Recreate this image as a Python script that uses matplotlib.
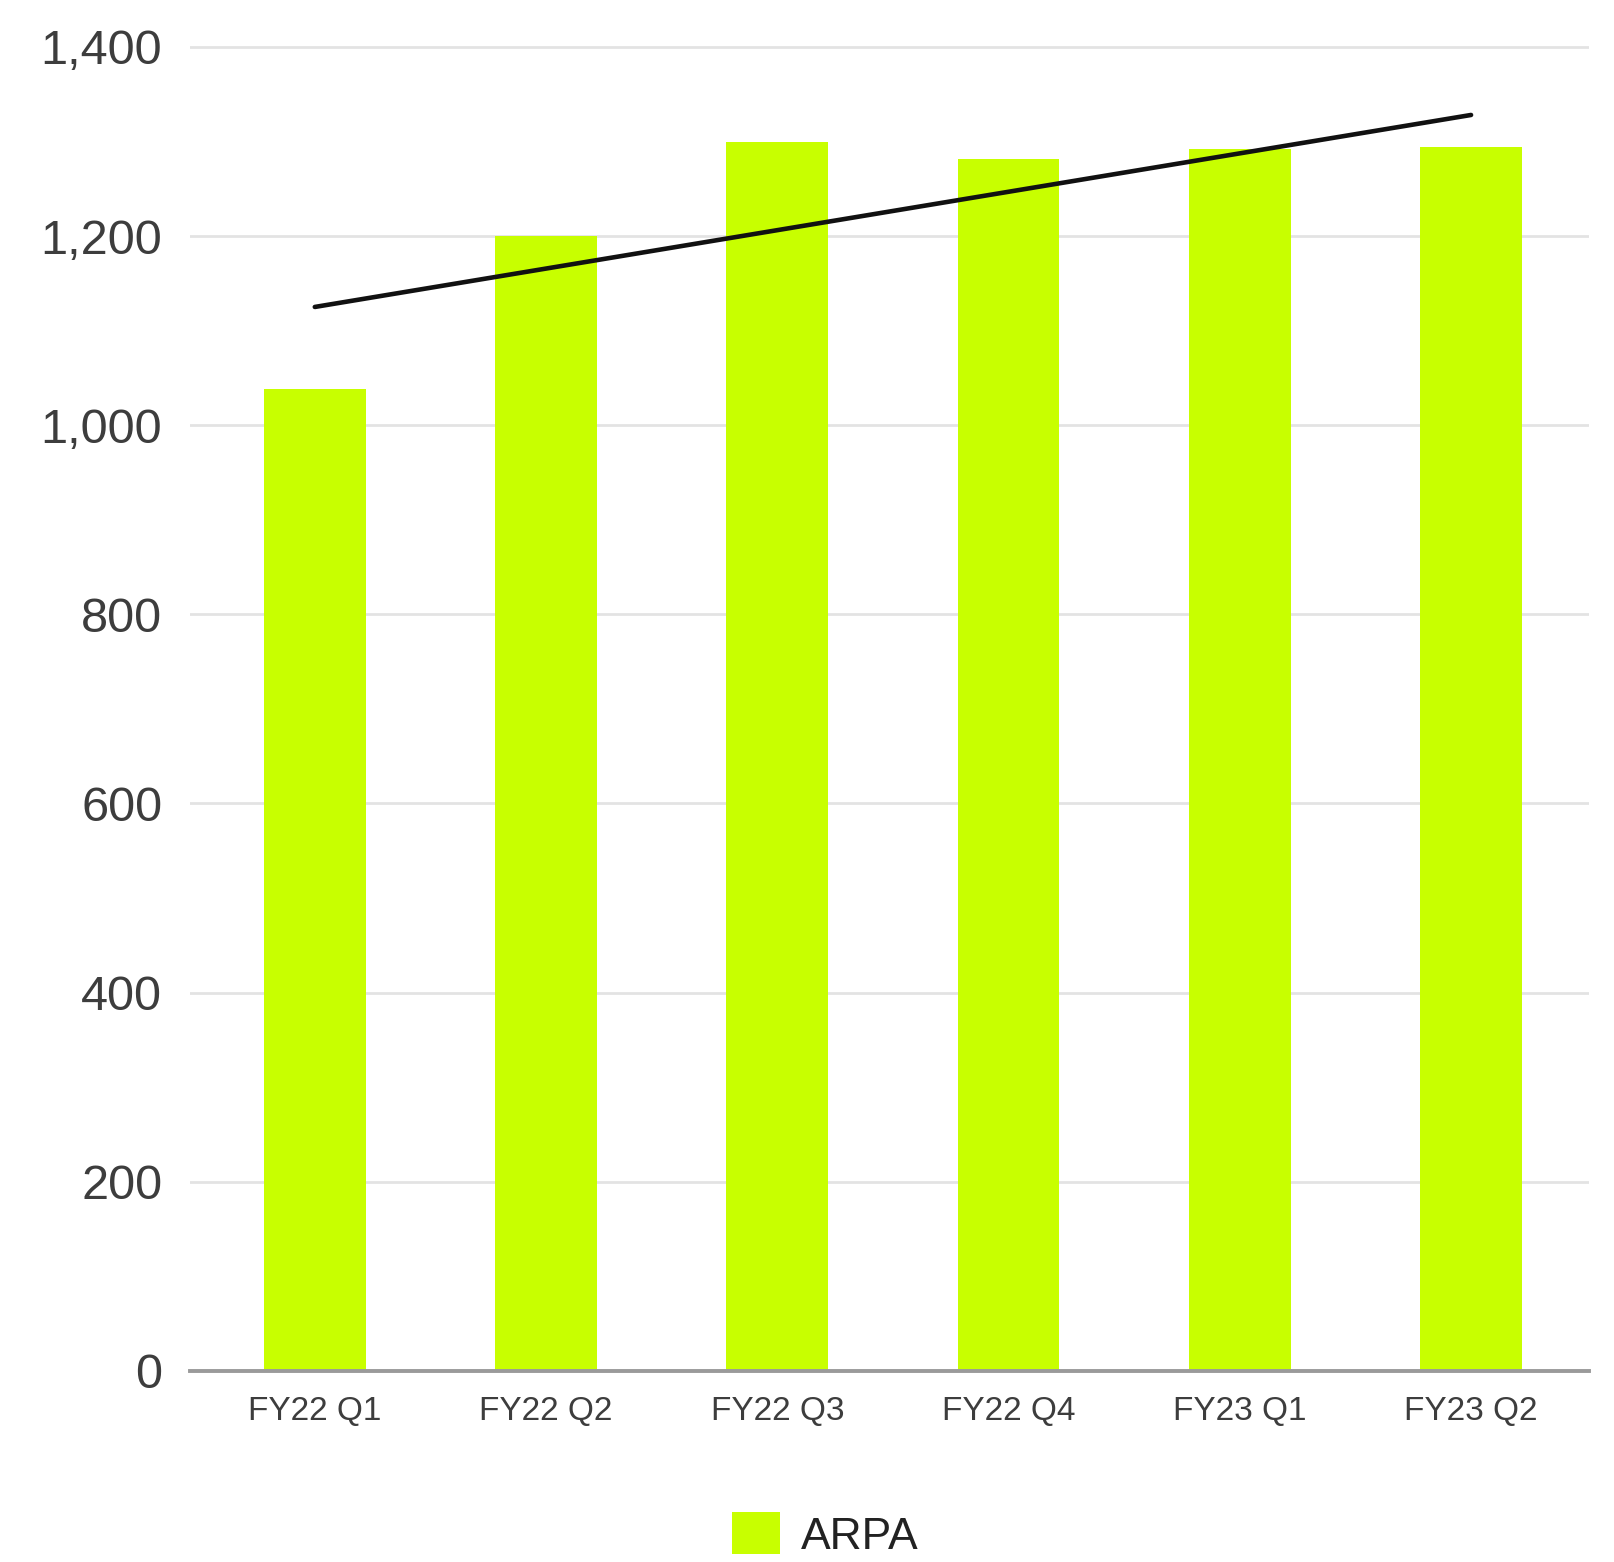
import matplotlib
matplotlib.use("Agg")
import matplotlib.pyplot as plt
from matplotlib.patches import Patch

categories = ["FY22 Q1", "FY22 Q2", "FY22 Q3", "FY22 Q4", "FY23 Q1", "FY23 Q2"]
arpa = [1038, 1200, 1299, 1281, 1292, 1294]
trend_x = [0, 5]
trend_y = [1125, 1328]
y_ticks = [0, 200, 400, 600, 800, 1000, 1200, 1400]
y_tick_labels = ["0", "200", "400", "600", "800", "1,000", "1,200", "1,400"]

plt.rcParams["font.family"] = ["Liberation Sans", "DejaVu Sans"]

fig = plt.figure(figsize=(16.15, 15.62), dpi=100)
ax = fig.add_axes([0.1176, 0.1223, 0.8663, 0.8483])

x = list(range(len(categories)))
ax.bar(x, arpa, width=0.44, color="#C8FF00", zorder=2, label="ARPA")
ax.plot(trend_x, trend_y, color="#111111", linewidth=3.3, solid_capstyle="round", zorder=3)

ax.set_xlim(-0.54, 5.51)
ax.set_ylim(0, 1401)
ax.set_yticks(y_ticks)
ax.set_yticklabels(y_tick_labels)
ax.set_xticks(x)
ax.set_xticklabels(categories)

ax.yaxis.grid(True, color="#e3e3e3", linewidth=2, zorder=0)
ax.set_axisbelow(True)
for s in ["top", "right", "left"]:
    ax.spines[s].set_visible(False)
ax.spines["bottom"].set_color("#9a9a9a")
ax.spines["bottom"].set_linewidth(2.8)
ax.spines["bottom"].set_zorder(4)

ax.tick_params(axis="y", length=0, pad=20, labelsize=35, labelcolor="#3d3d3d")
ax.tick_params(axis="x", length=0, pad=18, labelsize=24, labelcolor="#3d3d3d")

handles = [Patch(facecolor="#C8FF00", edgecolor="none", label="ARPA")]
fig.legend(handles=handles, loc="center", bbox_to_anchor=(0.511, 0.0173),
           frameon=False, fontsize=32, handlelength=1.08, handleheight=1.08,
           handletextpad=0.45, labelcolor="#222222")

fig.savefig("out.png", dpi=100, facecolor="white")
